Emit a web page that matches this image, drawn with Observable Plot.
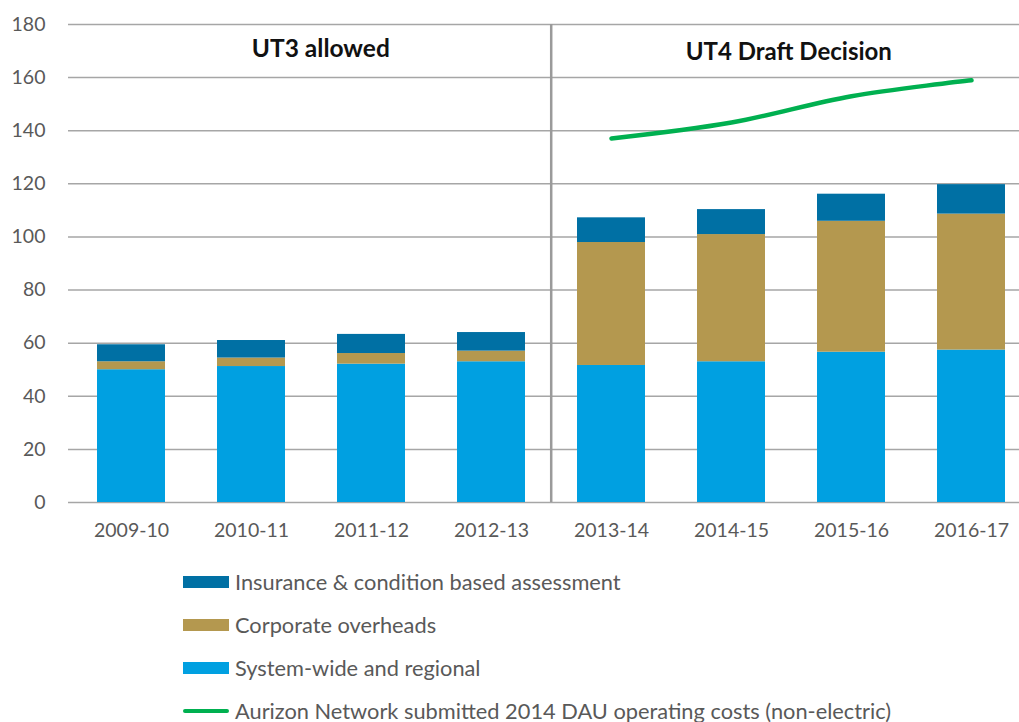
<!DOCTYPE html>
<html>
<head>
<meta charset="utf-8">
<script src="https://cdn.jsdelivr.net/npm/d3@7"></script>
<script src="https://cdn.jsdelivr.net/npm/@observablehq/plot@0.6"></script>
<style>
  body { margin: 0; background: #fff; font-family: Lato, sans-serif; }
  #chart svg { display: block; }
  .legend { margin-left: 183px; }
  .row { height: 43px; display: flex; align-items: center; font-size: 21.8px; line-height: 1; color: #595959; white-space: nowrap; }
  .sw { width: 46px; margin-right: 6px; flex: none; }
</style>
</head>
<body>
<div id="chart"></div>
<div class="legend" id="legend"></div>
<script>
const years = ["2009-10","2010-11","2011-12","2012-13","2013-14","2014-15","2015-16","2016-17"];
const systemWide = [50.0, 51.2, 52.1, 53.0, 51.6, 53.0, 56.6, 57.4];
const corporate  = [3.0, 3.2, 4.0, 4.0, 46.3, 47.9, 49.3, 51.2];
const insurance  = [6.4, 6.6, 7.2, 7.0, 9.3, 9.4, 10.2, 11.1];
const lineYears = ["2013-14","2014-15","2015-16","2016-17"];
const lineValues = [137.1, 143.1, 153.0, 159.0];
const seriesNames = ["System-wide and regional","Corporate overheads","Insurance & condition based assessment"];
const seriesColors = ["#00A0E1","#B4984F","#0070A4"];
const lineName = "Aurizon Network submitted 2014 DAU operating costs (non-electric)";
const lineColor = "#00B050";
const sectionLabels = ["UT3 allowed","UT4 Draft Decision"];
const sectionAnchors = ["2010-11","2014-15"];
const yTicks = [0,20,40,60,80,100,120,140,160,180];

const rows = [];
years.forEach((yr, i) => {
  rows.push({year: yr, series: seriesNames[0], value: systemWide[i]});
  rows.push({year: yr, series: seriesNames[1], value: corporate[i]});
  rows.push({year: yr, series: seriesNames[2], value: insurance[i]});
});
const lineData = lineYears.map((y, i) => ({year: y, value: lineValues[i]}));

const xRange = [68.5, 1033.3];
const halfBand = (xRange[1] - xRange[0]) / years.length / 2;

const chart = Plot.plot({
  width: 1019,
  height: 560,
  marginLeft: 68,
  marginRight: 0,
  marginTop: 24,
  marginBottom: 58,
  style: {fontFamily: "Lato, sans-serif", color: "#595959"},
  x: {domain: years, range: xRange, paddingInner: 0.43, paddingOuter: 0.215, label: null},
  y: {domain: [0, 180], label: null},
  color: {domain: seriesNames, range: seriesColors},
  marks: [
    Plot.ruleY(yTicks, {stroke: "#A6A6A6", strokeWidth: 1.5}),
    Plot.axisY({ticks: yTicks, tickSize: 0, tickPadding: 23, fontSize: 19.5, fill: "#595959", label: null}),
    Plot.axisX({tickSize: 0, tickPadding: 21, fontSize: 19.5, fill: "#595959", label: null}),
    Plot.barY(rows, {x: "year", y: "value", fill: "series"}),
    Plot.ruleX(["2013-14"], {x: d => d, dx: -halfBand, y1: 0, y2: 180, stroke: "#9A9A9A", strokeWidth: 2.5}),
    Plot.line(lineData, {x: "year", y: "value", stroke: lineColor, strokeWidth: 4.5, curve: "catmull-rom", strokeLinecap: "round"}),
    Plot.text([sectionLabels[0]], {x: () => sectionAnchors[0], y: () => 170.9, dx: halfBand + 9, text: d => d, fontSize: 24.5, fontWeight: "bold", fill: "#111"}),
    Plot.text([sectionLabels[1]], {x: () => sectionAnchors[1], y: () => 169.7, dx: halfBand - 3, text: d => d, fontSize: 24, fontWeight: "bold", fill: "#111"})
  ]
});
document.getElementById("chart").appendChild(chart);

const legend = document.getElementById("legend");
const items = [
  {name: seriesNames[2], color: seriesColors[2], type: "bar"},
  {name: seriesNames[1], color: seriesColors[1], type: "bar"},
  {name: seriesNames[0], color: seriesColors[0], type: "bar"},
  {name: lineName, color: lineColor, type: "line"}
];
items.forEach(it => {
  const row = document.createElement("div");
  row.className = "row";
  const sw = document.createElement("div");
  sw.className = "sw";
  sw.style.background = it.color;
  sw.style.height = it.type === "bar" ? "12px" : "4px";
  if (it.type === "line") sw.style.borderRadius = "2px";
  row.appendChild(sw);
  const t = document.createElement("span");
  t.textContent = it.name;
  row.appendChild(t);
  legend.appendChild(row);
});
</script>
</body>
</html>
